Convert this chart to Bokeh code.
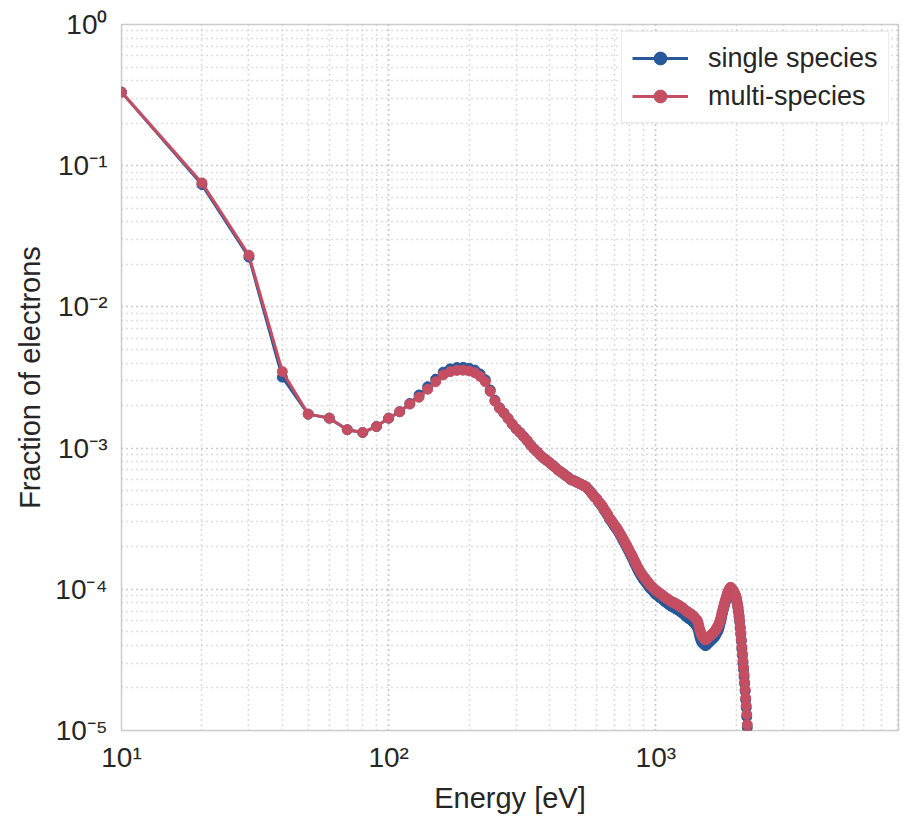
from bokeh.plotting import figure
from bokeh.models import Range1d, CustomJSTickFormatter
from bokeh.embed import file_html
from bokeh.resources import INLINE

# Energy bins [eV], 10 eV wide, 10 ... 2230
energy = list(range(10, 2240, 10))

# Fraction of electrons per bin, single-species run
single_species = [
    0.332, 0.0735, 0.0225, 0.00318, 0.00174, 0.00163, 0.00135, 0.00129, 0.00142, 0.00163,
    0.00181, 0.00207, 0.00238, 0.00272, 0.00308, 0.00345, 0.00364, 0.00372, 0.00373, 0.00368,
    0.00357, 0.00335, 0.00305, 0.00258, 0.00218, 0.00193, 0.00177, 0.00162, 0.00148, 0.00137,
    0.00129, 0.00121, 0.00113, 0.00105, 0.00099, 0.00094, 0.00089, 0.00085, 0.00082, 0.00079,
    0.00076, 0.00073, 0.00070, 0.00068, 0.00066, 0.00064, 0.00062, 0.00060, 0.00059, 0.00058,
    0.00057, 0.00056, 0.00055, 0.00054, 0.00053, 0.00051, 0.00049, 0.00047, 0.00045, 0.00044,
    0.000415, 0.0004, 0.000385, 0.000365, 0.00035, 0.000334, 0.000315, 0.000304, 0.000292, 0.00028,
    0.00027, 0.00026, 0.000248, 0.000237, 0.000226, 0.000216, 0.000206, 0.000197, 0.000188, 0.000179,
    0.000171, 0.000163, 0.000155, 0.000148, 0.000141, 0.000135, 0.00013, 0.000125, 0.000121, 0.000117,
    0.000114, 0.000111, 0.000108, 0.000105, 0.000102, 0.0001, 9.8e-5, 9.6e-5, 9.4e-5, 9.2e-5,
    9.1e-5, 9.0e-5, 8.8e-5, 8.7e-5, 8.6e-5, 8.5e-5, 8.3e-5, 8.2e-5, 8.1e-5, 8.0e-5,
    7.9e-5, 7.8e-5, 7.7e-5, 7.6e-5, 7.55e-5, 7.5e-5, 7.4e-5, 7.35e-5, 7.3e-5, 7.2e-5,
    7.15e-5, 7.1e-5, 7.0e-5, 6.9e-5, 6.85e-5, 6.8e-5, 6.7e-5, 6.6e-5, 6.5e-5, 6.4e-5,
    6.35e-5, 6.3e-5, 6.2e-5, 6.15e-5, 6.1e-5, 6.0e-5, 5.95e-5, 5.9e-5, 5.8e-5, 5.7e-5,
    5.6e-5, 5.5e-5, 5.4e-5, 5.2e-5, 4.9e-5, 4.65e-5, 4.45e-5, 4.3e-5, 4.2e-5, 4.15e-5,
    4.1e-5, 4.05e-5, 4.0e-5, 4.0e-5, 4.05e-5, 4.1e-5, 4.15e-5, 4.2e-5, 4.25e-5, 4.3e-5,
    4.35e-5, 4.4e-5, 4.45e-5, 4.5e-5, 4.55e-5, 4.6e-5, 4.7e-5, 4.8e-5, 4.9e-5, 5.0e-5,
    5.1e-5, 5.25e-5, 5.45e-5, 5.7e-5, 5.95e-5, 6.25e-5, 6.6e-5, 6.9e-5, 7.2e-5, 7.5e-5,
    7.8e-5, 8.1e-5, 8.4e-5, 8.7e-5, 9.0e-5, 9.3e-5, 9.5e-5, 9.7e-5, 9.9e-5, 1.01e-4,
    1.01e-4, 1.0e-4, 9.85e-5, 9.75e-5, 9.65e-5, 9.5e-5, 9.3e-5, 9.1e-5, 8.9e-5, 8.6e-5,
    8.2e-5, 7.8e-5, 7.4e-5, 6.9e-5, 6.4e-5, 5.9e-5, 5.3e-5, 4.8e-5, 4.3e-5, 3.8e-5,
    3.4e-5, 3.0e-5, 2.7e-5, 2.4e-5, 2.15e-5, 1.9e-5, 1.65e-5, 1.45e-5, 1.25e-5, 1.05e-5,
    9.0e-6, 7.6e-6, 6.4e-6,
]

# Fraction of electrons per bin, multi-species run
multi_species = [
    0.332, 0.0755, 0.0232, 0.00348, 0.00174, 0.00163, 0.00135, 0.00129, 0.00142, 0.00163,
    0.00181, 0.00205, 0.00229, 0.00261, 0.00295, 0.0033, 0.00348, 0.00355, 0.00356, 0.00352,
    0.00342, 0.00322, 0.00295, 0.00252, 0.00215, 0.00192, 0.00177, 0.00162, 0.00148, 0.00137,
    0.00129, 0.00121, 0.00113, 0.00105, 0.00099, 0.00094, 0.00089, 0.00085, 0.00082, 0.00079,
    0.00076, 0.00073, 0.00070, 0.00068, 0.00066, 0.00064, 0.00062, 0.00060, 0.00059, 0.00058,
    0.00057, 0.00056, 0.00055, 0.00054, 0.00053, 0.00051, 0.00049, 0.00047, 0.00045, 0.00044,
    0.00042, 0.000405, 0.00039, 0.00037, 0.000356, 0.00034, 0.00032, 0.00031, 0.000298, 0.000286,
    0.000276, 0.000266, 0.000254, 0.000243, 0.000232, 0.000222, 0.000212, 0.000203, 0.000194, 0.000185,
    0.000177, 0.000169, 0.000161, 0.000154, 0.000147, 0.000141, 0.000136, 0.000131, 0.000127, 0.000123,
    0.00012, 0.000117, 0.000114, 0.000111, 0.000108, 0.000106, 0.000104, 0.000102, 0.0001, 9.8e-5,
    9.7e-5, 9.6e-5, 9.4e-5, 9.3e-5, 9.2e-5, 9.1e-5, 8.9e-5, 8.8e-5, 8.7e-5, 8.6e-5,
    8.5e-5, 8.4e-5, 8.3e-5, 8.2e-5, 8.15e-5, 8.1e-5, 8.0e-5, 7.95e-5, 7.9e-5, 7.8e-5,
    7.75e-5, 7.7e-5, 7.6e-5, 7.5e-5, 7.45e-5, 7.4e-5, 7.3e-5, 7.2e-5, 7.1e-5, 7.0e-5,
    6.95e-5, 6.9e-5, 6.8e-5, 6.75e-5, 6.7e-5, 6.6e-5, 6.55e-5, 6.5e-5, 6.4e-5, 6.3e-5,
    6.2e-5, 6.1e-5, 6.0e-5, 5.8e-5, 5.5e-5, 5.2e-5, 5.0e-5, 4.8e-5, 4.7e-5, 4.6e-5,
    4.5e-5, 4.45e-5, 4.4e-5, 4.4e-5, 4.45e-5, 4.5e-5, 4.55e-5, 4.6e-5, 4.65e-5, 4.7e-5,
    4.75e-5, 4.8e-5, 4.85e-5, 4.9e-5, 4.95e-5, 5.0e-5, 5.1e-5, 5.2e-5, 5.3e-5, 5.4e-5,
    5.5e-5, 5.6e-5, 5.8e-5, 6.0e-5, 6.2e-5, 6.5e-5, 6.8e-5, 7.1e-5, 7.4e-5, 7.7e-5,
    8.0e-5, 8.3e-5, 8.6e-5, 8.9e-5, 9.2e-5, 9.5e-5, 9.7e-5, 9.9e-5, 1.01e-4, 1.03e-4,
    1.03e-4, 1.02e-4, 1.0e-4, 9.9e-5, 9.8e-5, 9.6e-5, 9.4e-5, 9.2e-5, 9.0e-5, 8.7e-5,
    8.3e-5, 7.9e-5, 7.5e-5, 7.0e-5, 6.5e-5, 6.0e-5, 5.4e-5, 4.9e-5, 4.4e-5, 3.9e-5,
    3.5e-5, 3.1e-5, 2.8e-5, 2.5e-5, 2.2e-5, 1.95e-5, 1.7e-5, 1.5e-5, 1.3e-5, 1.1e-5,
    9.5e-6, 8.0e-6, 6.8e-6,
]

BLUE = "#28599a"
RED = "#c44e62"
TEXT = "#262626"
FONT = "Liberation Sans"

p = figure(
    width=906, height=816,
    x_axis_type="log", y_axis_type="log",
    x_range=Range1d(10, 8100), y_range=Range1d(1e-5, 1),
    output_backend="svg", toolbar_location=None,
    min_border_left=121, min_border_right=8, min_border_top=24, min_border_bottom=85,
)
p.background_fill_color = "white"
p.border_fill_color = "white"
p.outline_line_color = "#cccccc"
p.outline_line_width = 1.5

for g in (p.xgrid, p.ygrid):
    g.grid_line_color = "#bcbcbc"
    g.grid_line_dash = "1 4"
    g.grid_line_width = 1.6
    g.minor_grid_line_color = "#bcbcbc"
    g.minor_grid_line_dash = "1 4"
    g.minor_grid_line_width = 1.6

sup_fmt = CustomJSTickFormatter(code="""
const sup = {"0":"\u2070","1":"\u00b9","2":"\u00b2","3":"\u00b3","4":"\u2074",
             "5":"\u2075","6":"\u2076","7":"\u2077","8":"\u2078","9":"\u2079","-":"\u207b"};
const e = Math.round(Math.log10(tick));
return "10" + String(e).split("").map(c => sup[c]).join("");
""")

for ax in (p.xaxis, p.yaxis):
    ax.formatter = sup_fmt
    ax.axis_line_color = None
    ax.major_tick_line_color = None
    ax.minor_tick_line_color = None
    ax.major_label_text_font = FONT
    ax.major_label_text_font_size = "28px"
    ax.major_label_text_color = TEXT
    ax.axis_label_text_font = FONT
    ax.axis_label_text_font_size = "29px"
    ax.axis_label_text_font_style = "normal"
    ax.axis_label_text_color = TEXT

p.xaxis.axis_label = "Energy [eV]"
p.yaxis.axis_label = "Fraction of electrons"
p.xaxis.major_label_standoff = 5
p.yaxis.major_label_standoff = 8
p.xaxis.axis_label_standoff = 6
p.yaxis.axis_label_standoff = 6

p.line(energy, single_species, color=BLUE, line_width=3, legend_label="single species")
p.scatter(energy, single_species, size=10, color=BLUE, legend_label="single species")
p.line(energy, multi_species, color=RED, line_width=3, legend_label="multi-species")
p.scatter(energy, multi_species, size=10, color=RED, legend_label="multi-species")

lg = p.legend[0]
lg.location = (500, 607)
lg.padding = 10
lg.spacing = 6
lg.glyph_width = 56
lg.glyph_height = 32
lg.label_standoff = 20
lg.label_text_font = FONT
lg.label_text_font_size = "27px"
lg.label_text_color = TEXT
lg.border_line_color = "#d8d8d8"
lg.border_line_width = 1.3
lg.background_fill_color = "white"
lg.background_fill_alpha = 1.0

open("out.html", "w").write(file_html(p, INLINE))
